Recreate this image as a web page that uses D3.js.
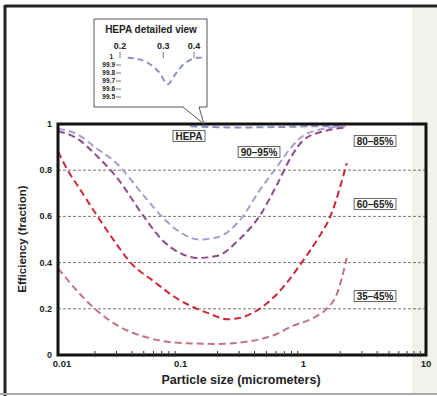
<!DOCTYPE html>
<html lang="en">
<head>
<meta charset="UTF-8">
<script src="https://d3js.org/d3.v7.min.js"></script>
<style>
  body { margin: 0; background: #fff; }
  text { font-family: "Liberation Sans", Arial, sans-serif; fill: #222; }
</style>
</head>
<body>
<svg id="chart" width="437" height="396"></svg>
<script>
// particle sizes (micrometers) and efficiencies
const hepaSize = [0.12, 0.15, 0.2, 0.3, 0.5, 0.8, 1.2, 1.7, 2.2];
const hepaEff  = [0.99, 0.988, 0.986, 0.985, 0.986, 0.988, 0.99, 0.99, 0.99];

const f90Size = [0.01, 0.015, 0.02, 0.03, 0.05, 0.07, 0.1, 0.14, 0.2, 0.3, 0.45, 0.6, 0.8, 1.0, 1.5, 2.2];
const f90Eff  = [0.98, 0.95, 0.9, 0.83, 0.69, 0.6, 0.53, 0.5, 0.51, 0.58, 0.72, 0.81, 0.9, 0.95, 0.98, 0.99];

const f80Size = [0.01, 0.015, 0.02, 0.03, 0.05, 0.07, 0.1, 0.14, 0.2, 0.3, 0.45, 0.6, 0.8, 1.0, 1.5, 2.2];
const f80Eff  = [0.97, 0.93, 0.87, 0.77, 0.6, 0.5, 0.44, 0.42, 0.43, 0.5, 0.61, 0.73, 0.86, 0.93, 0.97, 0.985];

const f60Size = [0.01, 0.012, 0.015, 0.021, 0.03, 0.039, 0.06, 0.09, 0.136, 0.17, 0.24, 0.3, 0.44, 0.6, 0.97, 1.3, 1.66, 2.26];
const f60Eff  = [0.88, 0.8, 0.72, 0.6, 0.48, 0.4, 0.32, 0.25, 0.2, 0.18, 0.155, 0.16, 0.2, 0.26, 0.4, 0.5, 0.6, 0.83];

const f35Size = [0.01, 0.02, 0.03, 0.05, 0.1, 0.2, 0.37, 0.6, 0.82, 1.2, 1.55, 1.88, 2.26];
const f35Eff  = [0.375, 0.2, 0.13, 0.08, 0.052, 0.048, 0.06, 0.09, 0.126, 0.16, 0.2, 0.265, 0.42];

// detailed HEPA view (percent)
const zoomSize = [0.215, 0.24, 0.265, 0.29, 0.313, 0.335, 0.36, 0.385, 0.41, 0.43];
const zoomEff  = [99.99, 99.97, 99.91, 99.8, 99.66, 99.78, 99.9, 99.96, 99.99, 99.99];

const xTicks = [0.01, 0.1, 1, 10];
const yTicks = [0, 0.2, 0.4, 0.6, 0.8, 1];
const gridTicks = [0.2, 0.4, 0.6, 0.8];
const zoomXTicks = [0.2, 0.3, 0.4];
const zoomYTicks = [100, 99.9, 99.8, 99.7, 99.6, 99.5];

const series = [
  { name: "HEPA", size: hepaSize, eff: hepaEff, color: "#8a90c4" },
  { name: "90–95%", size: f90Size, eff: f90Eff, color: "#a89ccf" },
  { name: "80–85%", size: f80Size, eff: f80Eff, color: "#8e4b8c" },
  { name: "60–65%", size: f60Size, eff: f60Eff, color: "#d0283a" },
  { name: "35–45%", size: f35Size, eff: f35Eff, color: "#c27380" }
];

const labels = [
  { text: "HEPA", x: 189, y: 136 },
  { text: "90–95%", x: 259, y: 152 },
  { text: "80–85%", x: 375, y: 141 },
  { text: "60–65%", x: 375, y: 204 },
  { text: "35–45%", x: 375, y: 296 }
];

const svg = d3.select("#chart");

// page frame
svg.append("rect").attr("x", 412).attr("y", 8).attr("width", 25).attr("height", 385).attr("fill", "#f2f1ec");
svg.append("line").attr("x1", 5).attr("x2", 437).attr("y1", 6).attr("y2", 6).attr("stroke", "#222").attr("stroke-width", 3);
svg.append("line").attr("x1", 5).attr("x2", 5).attr("y1", 5).attr("y2", 396).attr("stroke", "#222").attr("stroke-width", 3);
svg.append("line").attr("x1", 0).attr("x2", 437).attr("y1", 394).attr("y2", 394).attr("stroke", "#aaa").attr("stroke-width", 2);

const plotL = 58, plotR = 426, plotT = 124, plotB = 355;

const x = d3.scaleLog().domain([0.01, 10]).range([plotL, plotR]);
const y = d3.scaleLinear().domain([0, 1]).range([plotB, plotT]);

// grid
svg.append("g").selectAll("line")
  .data(gridTicks)
  .join("line")
  .attr("x1", plotL).attr("x2", plotR)
  .attr("y1", d => y(d)).attr("y2", d => y(d))
  .attr("stroke", "#777").attr("stroke-width", 1).attr("stroke-dasharray", "3,2");

// curves
const line = d3.line()
  .x(d => x(d[0]))
  .y(d => y(d[1]))
  .curve(d3.curveMonotoneX);

svg.append("g").selectAll("path")
  .data(series)
  .join("path")
  .attr("d", s => line(s.size.map((v, i) => [v, s.eff[i]])))
  .attr("fill", "none")
  .attr("stroke", s => s.color)
  .attr("stroke-width", 2)
  .attr("stroke-dasharray", "7,4");

// plot frame
svg.append("rect")
  .attr("x", plotL).attr("y", plotT)
  .attr("width", plotR - plotL).attr("height", plotB - plotT)
  .attr("fill", "none").attr("stroke", "#111").attr("stroke-width", 3);

// minor log ticks
const minor = [];
[0.01, 0.1, 1].forEach(dec => { for (let k = 2; k <= 9; k++) minor.push(dec * k); });
svg.append("g").selectAll("line")
  .data(minor)
  .join("line")
  .attr("x1", d => x(d)).attr("x2", d => x(d))
  .attr("y1", plotB - 4).attr("y2", plotB + 2)
  .attr("stroke", "#333").attr("stroke-width", 1);

// tick labels
svg.append("g").selectAll("text")
  .data(yTicks)
  .join("text")
  .attr("x", plotL - 6).attr("y", d => y(d) + 3)
  .attr("text-anchor", "end")
  .style("font-size", "9px").style("font-weight", "bold")
  .text(d => d3.format("~g")(d));

svg.append("g").selectAll("text")
  .data(xTicks)
  .join("text")
  .attr("x", d => x(d) + (d === 0.01 ? 4 : 0)).attr("y", plotB + 12)
  .attr("text-anchor", "middle")
  .style("font-size", "9.5px").style("font-weight", "bold")
  .text(d => d3.format("~g")(d));

// axis titles
svg.append("text")
  .attr("x", 241).attr("y", 384)
  .attr("text-anchor", "middle")
  .style("font-size", "12.5px").style("font-weight", "bold")
  .text("Particle size (micrometers)");

svg.append("text")
  .attr("transform", "translate(26,239) rotate(-90)")
  .attr("text-anchor", "middle")
  .style("font-size", "11.5px").style("font-weight", "bold")
  .text("Efficiency (fraction)");

// boxed series labels
const lab = svg.append("g").selectAll("g")
  .data(labels)
  .join("g");
lab.append("text")
  .attr("x", d => d.x).attr("y", d => d.y + 3.5)
  .attr("text-anchor", "middle")
  .style("font-size", "10px").style("font-weight", "bold")
  .text(d => d.text);
lab.each(function () {
  const g = d3.select(this);
  const b = g.select("text").node().getBBox();
  g.insert("rect", "text")
    .attr("x", b.x - 2.5).attr("y", b.y)
    .attr("width", b.width + 5).attr("height", b.height)
    .attr("fill", "#fff").attr("stroke", "#444").attr("stroke-width", 0.8);
});

// callout with HEPA detailed view
svg.append("path")
  .attr("d", "M94,19 H207 V107 H199 L204,124 L183,107 H94 Z")
  .attr("fill", "#fff").attr("stroke", "#555").attr("stroke-width", 1);

svg.append("text")
  .attr("x", 151).attr("y", 33)
  .attr("text-anchor", "middle")
  .style("font-size", "10px").style("font-weight", "bold")
  .text("HEPA detailed view");

const zx = d3.scaleLog().domain([0.2, 0.4]).range([120, 194]);
const zy = d3.scaleLinear().domain([99.5, 100]).range([97, 57]);

svg.append("g").selectAll("text")
  .data(zoomXTicks)
  .join("text")
  .attr("x", d => zx(d)).attr("y", 49)
  .attr("text-anchor", "middle")
  .style("font-size", "9px").style("font-weight", "bold")
  .text(d => d3.format(".1f")(d));
svg.append("g").selectAll("line")
  .data(zoomXTicks)
  .join("line")
  .attr("x1", d => zx(d)).attr("x2", d => zx(d))
  .attr("y1", 52).attr("y2", 58)
  .attr("stroke", "#555").attr("stroke-width", 0.8);

svg.append("g").selectAll("text")
  .data(zoomYTicks)
  .join("text")
  .attr("x", d => d === 100 ? 113 : 115).attr("y", d => zy(d) + 2.3)
  .attr("text-anchor", "end")
  .style("font-size", "6.5px").style("font-weight", "bold")
  .text(d => d === 100 ? "1" : d3.format(".1f")(d));
svg.append("g").selectAll("line")
  .data(zoomYTicks.slice(1))
  .join("line")
  .attr("x1", 116).attr("x2", 121)
  .attr("y1", d => zy(d)).attr("y2", d => zy(d))
  .attr("stroke", "#555").attr("stroke-width", 0.8);

const zline = d3.line()
  .x(d => zx(d[0]))
  .y(d => zy(d[1]))
  .curve(d3.curveMonotoneX);
svg.append("path")
  .attr("d", zline(zoomSize.map((v, i) => [v, zoomEff[i]])))
  .attr("fill", "none")
  .attr("stroke", "#8a90c4")
  .attr("stroke-width", 2)
  .attr("stroke-dasharray", "6,4");
</script>
</body>
</html>
